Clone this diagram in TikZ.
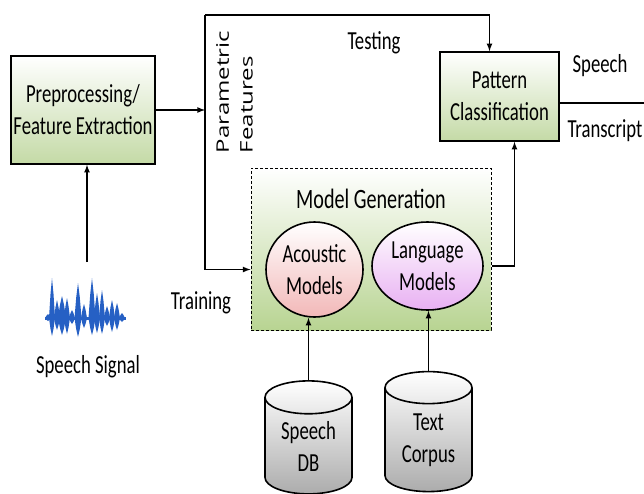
\documentclass[tikz,border=0pt]{standalone}
\usepackage{fontspec}
\setmainfont{Carlito}[FakeStretch=0.72]
\newfontfamily\paramfont{Open Sans}
\usepackage{graphicx}
\usetikzlibrary{arrows,calc,shapes,shapes.geometric,positioning}
\definecolor{prepgreen}{RGB}{196,218,166}
\definecolor{gengreen}{RGB}{184,212,146}
\definecolor{acpink}{RGB}{242,184,184}
\definecolor{lmviolet}{RGB}{232,176,242}
\definecolor{dbgray}{RGB}{172,172,172}
\definecolor{wave}{RGB}{38,96,196}

\begin{document}
\begin{tikzpicture}[x=1pt, y=-1pt, >=latex, line width=1.6pt,
    font=\fontsize{26}{32}\selectfont,
    box/.style={draw, top color=white, bottom color=#1, align=center, inner sep=0pt},
    modl/.style={draw, ellipse, top color=white, bottom color=#1, align=center, inner sep=0pt},
    db/.style={draw, cylinder, shape border rotate=90, aspect=0.6, top color=white, bottom color=dbgray,
      align=center, inner sep=0pt, minimum width=87pt, minimum height=113pt}]
    \useasboundingbox (0,0) rectangle (644,493);
    \node (prep) [box=prepgreen, minimum width=144pt, minimum height=108pt] at (83,110) {Preprocessing/\\Feature Extraction};
    \node (pat) [box=prepgreen, minimum width=119pt, minimum height=89pt] at (499.5,96.5) {Pattern\\Classification};
    \node (gen) [box=gengreen, line width=1pt, densely dashed, minimum width=240pt, minimum height=162pt] at (371,249) {};
    \node (gentitle) [font=\fontsize{28}{32}\selectfont] at (371,199) {Model Generation};
    \node (ac) [modl=acpink, minimum width=97pt, minimum height=95pt] at (314.5,269.5) {Acoustic\\Models};
    \node (lm) [modl=lmviolet, minimum width=111pt, minimum height=88pt] at (427.5,266) {Language\\Models};
    \node (sdb) [db] at (308.5,446) {Speech\\DB};
    \node (tc) [db, minimum height=120pt] at (428.5,440) {Text\\Corpus};

    % speech signal
    \fill [wave] (45,317) rectangle (126,319.5);
    \foreach \x/\u/\d/\w in {48/4/3/3, 52/40/18/3, 57/18/12/3, 62/22/17/4, 67/20/16/3, 72/8/6/3, 78/35/19/3.5,
        84/14/10/3, 92/40/17/3.5, 97/25/15/3, 102/28/16/3, 107/12/8/3, 112/18/14/3, 117/15/12/3, 122/5/4/3}
      \fill [wave] (\x-\w,318) -- (\x-\w/2,318-0.6*\u) -- (\x,318-\u) -- (\x+\w/2,318-0.6*\u) -- (\x+\w,318)
        -- (\x+\w/2,318+0.6*\d) -- (\x,318+\d) -- (\x-\w/2,318+0.6*\d) -- cycle;
    \node (sig) at (88,367) {Speech Signal};
    \coordinate (wtop) at (87,262);
    \draw [->] (wtop) -- (wtop |- prep.south);

    % features bus
    \coordinate (bus) at (205,15);
    \draw [->] (prep.east) -- (prep.east -| bus);
    \draw [->] (bus) -| ([xshift=-10pt]pat.north);
    \draw [->] (bus) |- (gen.west |- ac);
    \draw [->] (gen.east |- lm) -| ([xshift=15pt]pat.south);
    \coordinate (out) at (644,103);
    \draw (pat.east |- out) -- (out);
    \draw [->] (sdb.north) -- (sdb.north |- ac.south);
    \draw [->] (tc.north) -- (tc.north |- lm.south);

    \node (testing) at (374,43) {Testing};
    \node (speech) at (600,66) {Speech};
    \node (transcript) at (605,131) {Transcript};
    \node (training) at (201,303) {Training};
    \node (param) [rotate=90, inner sep=0pt, font=\paramfont\fontsize{24}{33}\selectfont] at (236,92)
      {\scalebox{1}[0.72]{\begin{tabular}{@{}l@{}}Parametric\\Features\end{tabular}}};
  \end{tikzpicture}
\end{document}
